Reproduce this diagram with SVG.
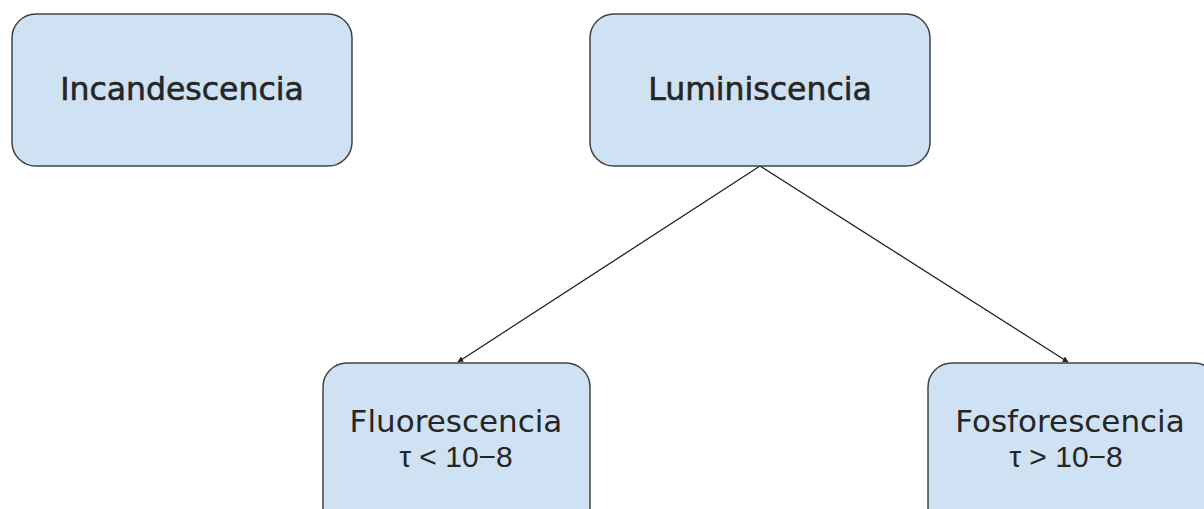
<svg xmlns="http://www.w3.org/2000/svg" width="1204" height="509" viewBox="0 0 1204 509">
<style>
.box{fill:#cfe2f3;stroke:#434343;stroke-width:1.5}
.t{font-family:"DejaVu Sans","Open Sans",sans-serif;font-size:31px;fill:#262626;text-anchor:middle}
.n{font-family:"Liberation Sans",Arial,sans-serif;font-size:30px}
.b{font-size:31.5px;stroke:#262626;stroke-width:0.6}
.c{stroke:#222;stroke-width:1.3;fill:none;marker-end:url(#ah)}
</style>
<defs>
<marker id="ah" viewBox="0 0 10 10" refX="9" refY="5" markerWidth="6" markerHeight="6" orient="auto" markerUnits="userSpaceOnUse">
<path d="M0,0 L10,5 L0,10 z" fill="#222"/>
</marker>
</defs>
<rect width="1204" height="509" fill="#fff"/>
<g id="connectors">
<line class="c" x1="760" y1="166" x2="458" y2="362"/>
<line class="c" x1="760" y1="166" x2="1068" y2="362"/>
</g>
<g id="incandescencia">
<rect class="box" x="12" y="14" width="340" height="152" rx="24"/>
<text class="t b" x="182" y="100">Incandescencia</text>
</g>
<g id="luminiscencia">
<rect class="box" x="590" y="14" width="340" height="152" rx="24"/>
<text class="t b" x="760" y="100">Luminiscencia</text>
</g>
<g id="fluorescencia">
<rect class="box" x="323" y="363" width="267" height="170" rx="24"/>
<text class="t" x="456" y="432">Fluorescencia</text>
<text class="t n" x="456" y="467">τ &lt; 10−8</text>
</g>
<g id="fosforescencia">
<rect class="box" x="928" y="363" width="290" height="170" rx="24"/>
<text class="t" x="1070" y="432">Fosforescencia</text>
<text class="t n" x="1066" y="467">τ &gt; 10−8</text>
</g>
</svg>
